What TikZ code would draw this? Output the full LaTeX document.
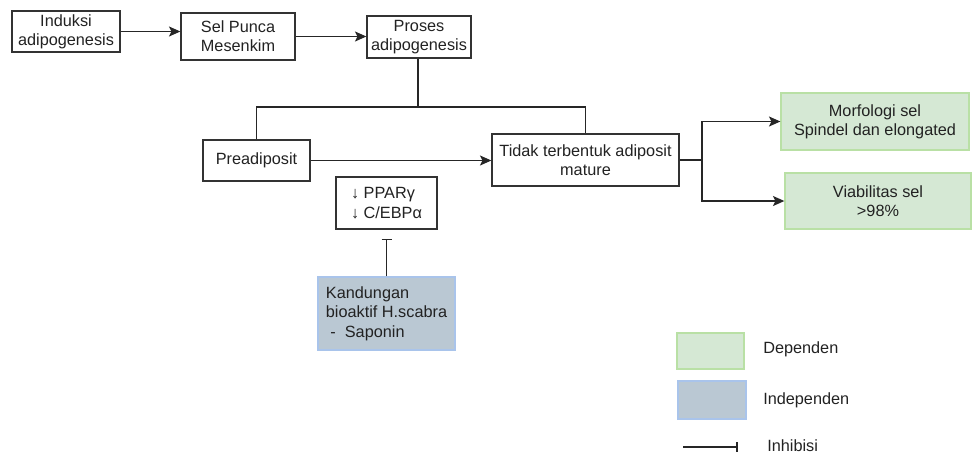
\documentclass[tikz,border=0pt]{standalone}
\usepackage{fontspec}
\setmainfont{Liberation Sans}
\usetikzlibrary{arrows.meta}
\definecolor{gfill}{HTML}{D5E8D4}
\definecolor{gdraw}{HTML}{B9E0A5}
\definecolor{bfill}{HTML}{BAC8D3}
\definecolor{bdraw}{HTML}{A9C4EB}
\definecolor{txt}{HTML}{222222}
\begin{document}
\begin{tikzpicture}[x=0.75pt,y=-0.75pt,
 every node/.style={font=\fontsize{12.2}{14.5}\selectfont, text=txt, inner sep=0pt, align=center},
 box/.style={draw=black!80, line width=1pt, fill=white},
 dep/.style={draw=gdraw, fill=gfill, line width=1pt},
 indep/.style={draw=bdraw, fill=bfill, line width=1pt},
 conn/.style={line width=1pt, draw=black!85},
 arr/.style={conn, -{Stealth[length=8.5pt,width=7.5pt,inset=1.8pt]}},
 inh/.style={conn, -{Bar[width=7.5pt,line width=1.2pt]}},
]
\useasboundingbox[fill=white] (0,0) rectangle (973,455);
\node[box, minimum width=81pt, minimum height=30.75pt] (ind) at (66,31.5) {Induksi\\adipogenesis};
\node[box, minimum width=85.5pt, minimum height=35.25pt] (sel) at (238,36.5) {Sel Punca\\Mesenkim};
\node[box, minimum width=78pt, minimum height=31.5pt] (pro) at (419,37) {Proses\\adipogenesis};
\node[box, minimum width=80.25pt, minimum height=30.75pt] (pre) at (256.5,160.5) {Preadiposit};
\node[box, minimum width=140.25pt, minimum height=39pt] (tid) at (585.5,160) {Tidak terbentuk adiposit\\mature};
\node[box, minimum width=75.75pt, minimum height=39pt, align=left] (ppar) at (386.5,203) {↓ PPARγ\\↓ C/EBPα};
\node[indep, minimum width=102.75pt, minimum height=54.75pt, align=left] (kan) at (386.5,313.5) {Kandungan\\bioaktif H.scabra\\\ -\ \ Saponin};
\node[dep, minimum width=141pt, minimum height=42.75pt] (mor) at (875,121.5) {Morfologi sel\\Spindel dan elongated};
\node[dep, minimum width=139.5pt, minimum height=42pt] (via) at (878,201) {Viabilitas sel\\>98\%};

\coordinate (j1) at (418,107);
\coordinate (j2) at (702,160);
\draw[arr] (ind.east) -- (ind.east -| sel.west);
\draw[arr] (sel.east) -- (sel.east -| pro.west);
\draw[conn] (pro.south -| j1) -- (j1);
\draw[conn] (pre.north) |- (j1) -| (tid.north);
\draw[arr] (pre.east) -- (pre.east -| tid.west);
\draw[conn] (tid.east) -- (j2);
\draw[arr] (j2) |- (mor.west);
\draw[arr] (j2) |- (via.west);
\draw[inh, shorten >=6.75pt] (kan.north) -- (ppar.south);

% legend
\node[dep, minimum width=50.25pt, minimum height=27pt] (lg) at (710.5,351) {};
\node[indep, minimum width=51pt, minimum height=28.5pt] (lb) at (712,400) {};
\node[anchor=west] (tg) at (763,349) {Dependen};
\node[anchor=west] (tb) at (763,400) {Independen};
\coordinate (l1) at (683,447);
\coordinate (l2) at (738,447);
\draw[inh] (l1) -- (l2);
\node[anchor=west] (ti) at (767,446) {Inhibisi};
\end{tikzpicture}
\end{document}
